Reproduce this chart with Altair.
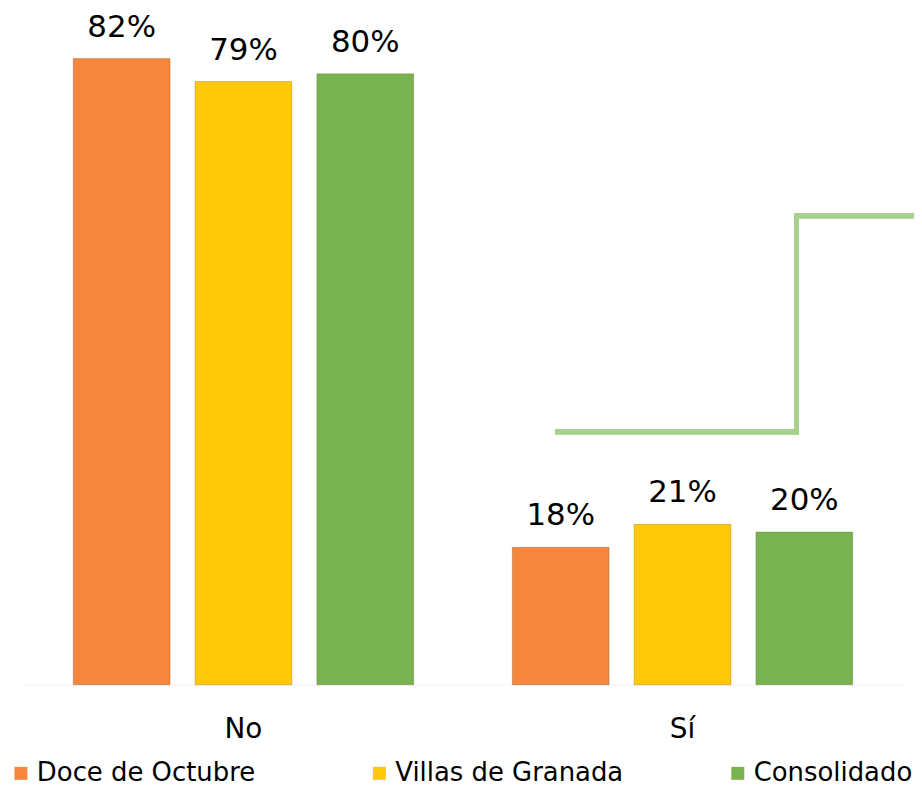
import altair as alt
import pandas as pd

categories = ["No", "Sí"]
series = ["Doce de Octubre", "Villas de Granada", "Consolidado"]
doce = [0.82, 0.18]
villas = [0.79, 0.21]
consolidado = [0.80, 0.20]
colors = ["#F5863B", "#FFC90A", "#78B34F"]

rows = []
for s, vals in zip(series, [doce, villas, consolidado]):
    for c, v in zip(categories, vals):
        rows.append({"cat": c, "serie": s, "val": v, "lab": f"{round(v*100)}%"})
df = pd.DataFrame(rows)

FONT = "DejaVu Sans"

x = alt.X("cat:N", sort=categories, title=None,
          scale=alt.Scale(paddingInner=0, paddingOuter=0),
          axis=alt.Axis(labelAngle=0, labelFontSize=28, labelFont=FONT, labelColor="#000000",
                        ticks=False, domainColor="#F2F2F2", domainWidth=1, labelPadding=31))
xo = alt.XOffset("serie:N", sort=series,
                 scale=alt.Scale(paddingInner=0.205, paddingOuter=0.405))
y = alt.Y("val:Q", scale=alt.Scale(domain=[0, 0.884], nice=False, zero=True), axis=None)

color = alt.Color("serie:N", sort=series,
                  scale=alt.Scale(domain=series, range=colors),
                  legend=alt.Legend(title=None, orient="none", legendX=-16, legendY=754,
                                    direction="horizontal", columns=3, gridAlign="all",
                                    columnPadding=101, symbolType="square", symbolSize=170,
                                    symbolStrokeWidth=0, labelFont=FONT, labelFontSize=26,
                                    labelColor="#000000", labelLimit=400, symbolOffset=0,
                                    labelOffset=3))

bars = alt.Chart(df).mark_bar(stroke="#5a3a1a", strokeOpacity=0.25, strokeWidth=1).encode(
    x=x, xOffset=xo, y=y, color=color)

labels = alt.Chart(df).mark_text(baseline="bottom", dy=-15, fontSize=31, font=FONT,
                                 color="#000000").encode(
    x=x, xOffset=xo, y=y, text="lab:N")

deco_style = dict(color="#A9D18E", strokeWidth=5, strokeCap="square")
line1 = alt.Chart(df).mark_rule(**deco_style).encode(
    x=alt.value(536), x2=alt.value(776), y=alt.value(424))
line2 = alt.Chart(df).mark_rule(**deco_style).encode(
    x=alt.value(776), y=alt.value(207), y2=alt.value(424))
line3 = alt.Chart(df).mark_rule(**deco_style).encode(
    x=alt.value(776), x2=alt.value(896), y=alt.value(207))

chart = alt.layer(bars, labels, line1, line2, line3).properties(
    width=882, height=678,
    background="#FFFFFF",
    autosize=alt.AutoSizeParams(type="none"),
    padding={"left": 16, "top": 0, "right": 12, "bottom": 100},
).configure_view(strokeOpacity=0, strokeWidth=0)

chart.save("out.html", embed_options={"renderer": "svg", "actions": False})
